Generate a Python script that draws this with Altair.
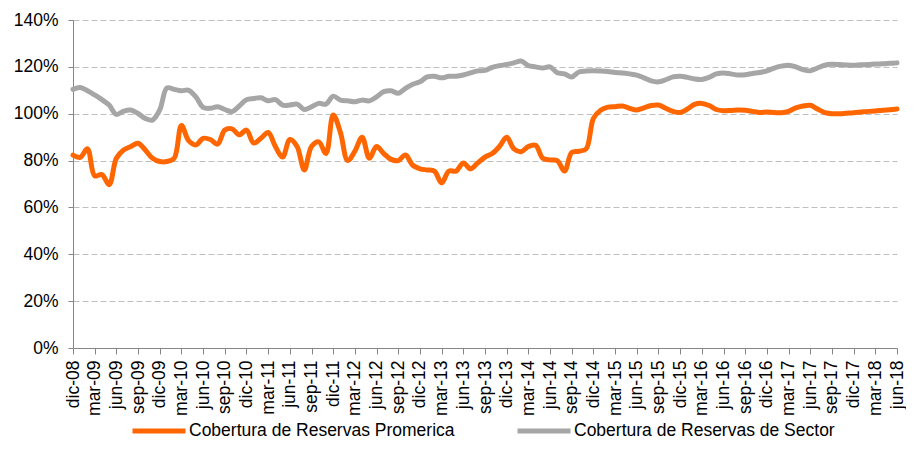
import altair as alt
import pandas as pd

meses = ["ene", "feb", "mar", "abr", "may", "jun", "jul", "ago", "sep", "oct", "nov", "dic"]
periodos = ["dic-08"] + [f"{m}-{y:02d}" for y in range(9, 19) for m in meses][:114]

series = ["Cobertura de Reservas Promerica", "Cobertura de Reservas de Sector"]
colores = ["#FF6600", "#A6A6A6"]

promerica = [
    82.3, 81.4, 85.0, 73.5, 74.0, 69.7, 81.0, 84.5, 86.0, 87.4,
    84.5, 81.0, 79.6, 79.6, 81.0, 95.0, 88.5, 86.7, 89.5, 89.0,
    87.0, 93.0, 93.5, 91.0, 93.0, 87.5, 89.5, 92.0, 86.0, 81.5,
    89.0, 86.0, 76.0, 86.0, 88.0, 83.0, 99.5, 92.0, 80.0, 84.0,
    90.0, 81.0, 86.0, 83.0, 80.5, 80.0, 82.4, 78.0, 76.5, 76.0,
    75.5, 70.5, 75.5, 75.5, 79.0, 76.5, 79.0, 81.5, 83.0, 86.0,
    90.0, 85.0, 83.8, 86.0, 86.5, 81.0, 80.3, 80.0, 75.5, 83.5,
    84.0, 85.0, 98.0, 101.5, 102.8, 103.0, 103.3, 102.3, 101.6, 102.5,
    103.5, 103.7, 102.3, 101.0, 100.5, 102.0, 104.0, 104.4, 103.5, 101.8,
    101.3, 101.4, 101.6, 101.5, 101.0, 100.5, 100.7, 100.5, 100.4, 101.0,
    102.5, 103.3, 103.6, 102.0, 100.5, 100.0, 100.0, 100.2, 100.4, 100.7,
    101.0, 101.2, 101.5, 101.7, 102.0,
]

sector = [
    110.4, 111.2, 109.8, 108.0, 106.0, 103.7, 99.7, 101.1, 101.6, 100.1,
    98.0, 97.3, 101.6, 111.0, 110.4, 109.8, 110.0, 107.2, 102.7, 102.3,
    103.0, 101.8, 100.9, 103.3, 106.0, 106.5, 106.8, 105.5, 106.0, 103.7,
    103.7, 104.1, 101.8, 103.0, 104.4, 104.1, 107.5, 105.8, 105.5, 105.1,
    105.8, 105.5, 107.2, 109.4, 109.8, 108.7, 110.8, 112.6, 113.6, 115.7,
    116.0, 115.3, 116.0, 116.0, 116.5, 117.4, 118.3, 118.5, 119.8, 120.5,
    121.0, 121.7, 122.5, 120.5, 120.0, 119.5, 120.0, 117.5, 117.0, 115.7,
    117.8, 118.2, 118.3, 118.2, 118.0, 117.6, 117.4, 117.0, 116.5, 115.3,
    114.0, 113.6, 114.5, 115.7, 116.0, 115.5, 114.8, 114.6, 115.5, 117.0,
    117.4, 117.0, 116.5, 116.6, 117.2, 117.6, 118.3, 119.5, 120.3, 120.7,
    120.0, 118.8, 118.3, 119.5, 120.7, 121.1, 121.0, 120.8, 120.7, 120.9,
    121.0, 121.2, 121.3, 121.5, 121.7,
]

rows = []
for nombre, valores in zip(series, [promerica, sector]):
    for i, (p, v) in enumerate(zip(periodos, valores)):
        rows.append({"periodo": p, "idx": i, "serie": nombre, "valor": v})
df = pd.DataFrame(rows)

FONT = "Liberation Sans"
FS = 17.5

chart = alt.Chart(df).mark_line(
    strokeWidth=5, interpolate="catmull-rom", strokeCap="round"
).encode(
    x=alt.X(
        "periodo:O",
        sort=periodos,
        scale=alt.Scale(type="point", padding=0, domain=periodos),
        axis=alt.Axis(
            values=periodos[::3], labelAngle=-90, title=None, grid=False,
            domainColor="#868686", tickColor="#868686", tickSize=6,
            labelPadding=6, labelFontSize=FS, labelFont=FONT,
            labelColor="#000000", zindex=1,
        ),
    ),
    y=alt.Y(
        "valor:Q",
        scale=alt.Scale(domain=[0, 140], nice=False, zero=True),
        axis=alt.Axis(
            values=list(range(0, 141, 20)), labelExpr="datum.value + '%'",
            title=None, grid=True, gridColor="#BFBFBF", gridDash=[6, 3],
            gridWidth=1.2, domainColor="#868686", tickColor="#868686",
            tickSize=5, labelPadding=10, labelFontSize=FS, labelFont=FONT,
            labelColor="#000000",
        ),
    ),
    color=alt.Color(
        "serie:N",
        scale=alt.Scale(domain=series, range=colores),
        legend=alt.Legend(
            title=None, orient="none", legendX=57, legendY=382,
            direction="horizontal", symbolType="stroke", symbolSize=2809,
            symbolStrokeWidth=5, labelFontSize=FS, labelFont=FONT,
            labelColor="#000000", columnPadding=52, labelOffset=1, padding=0,
            labelLimit=0,
        ),
    ),
    order=alt.Order("idx:Q"),
).properties(
    width=824,
    height=328,
    padding={"left": 65, "top": 12, "right": 9, "bottom": 100},
    autosize="none",
).configure_view(stroke=None)

chart.save("out.html", embed_options={"renderer": "svg", "actions": False})
